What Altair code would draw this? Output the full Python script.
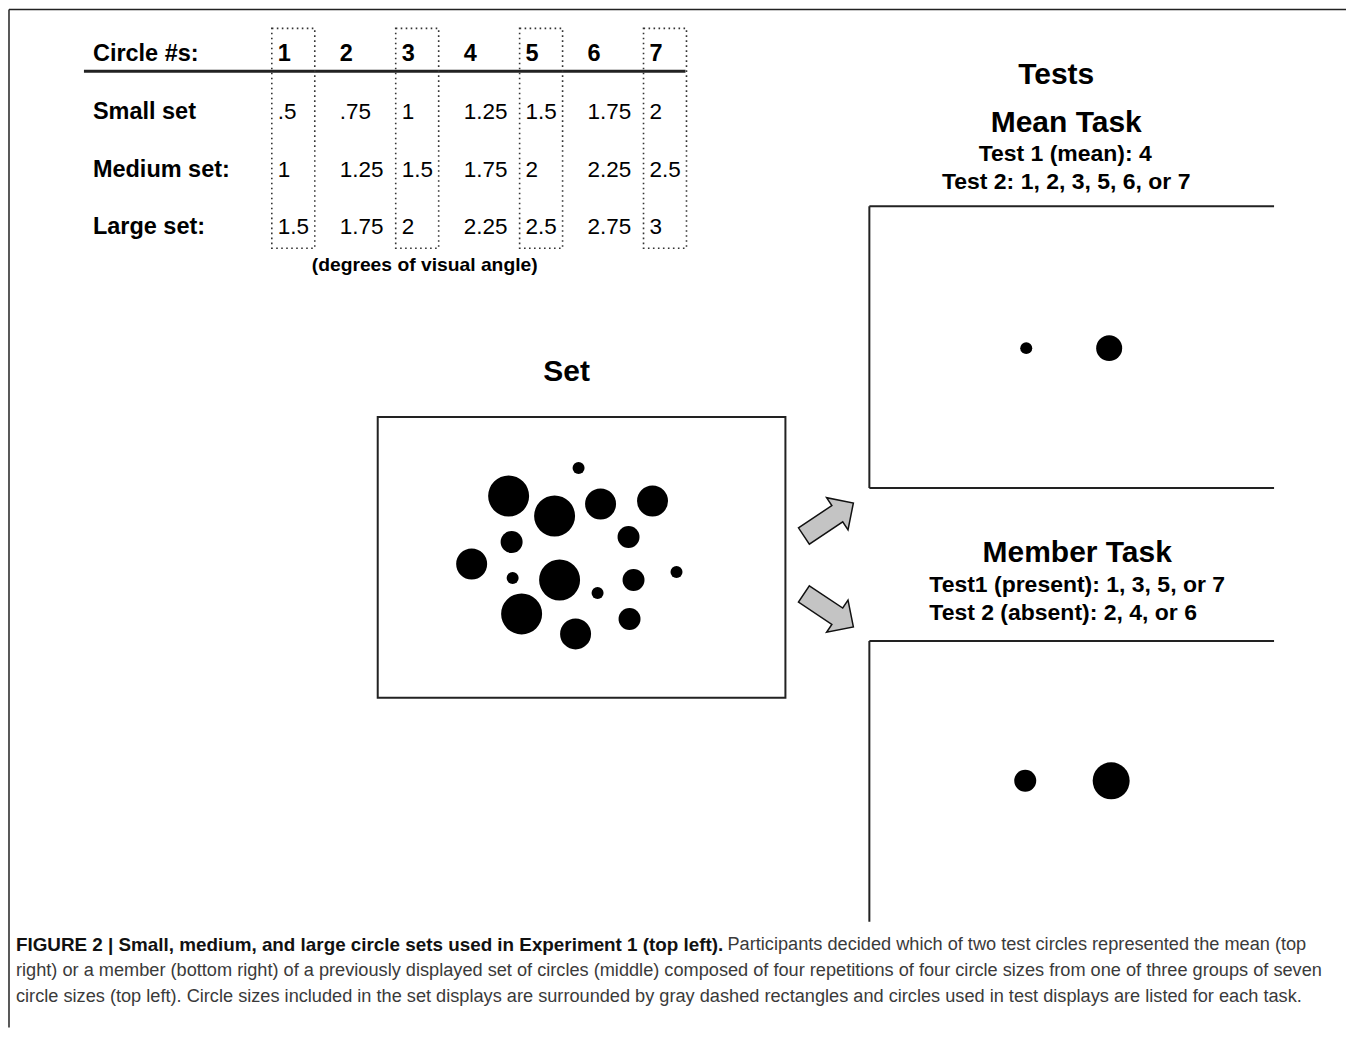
import math
import altair as alt
import pandas as pd

# ---------------- data ----------------
circle_numbers = ["1", "2", "3", "4", "5", "6", "7"]
set_labels = ["Small set", "Medium set:", "Large set:"]
small_vals = [".5", ".75", "1", "1.25", "1.5", "1.75", "2"]
medium_vals = ["1", "1.25", "1.5", "1.75", "2", "2.25", "2.5"]
large_vals = ["1.5", "1.75", "2", "2.25", "2.5", "2.75", "3"]
included_circles = [1, 3, 5, 7]

# set display (16 circles: 4 repetitions of 4 sizes)
set_circle_x = [509, 555, 579, 601, 653, 512, 629, 472, 513, 560, 634, 677, 598, 522, 576, 630]
set_circle_y = [496, 516, 468, 504, 501, 542, 537, 564, 578, 580, 580, 572, 593, 614, 634, 619]
set_circle_r = [20.5, 20.5, 6, 15.5, 15.5, 11, 11, 15.5, 6, 20.5, 11, 6, 6, 20.5, 15.5, 11]

# test displays
mean_test_x = [1027, 1110]
mean_test_y = [348, 348]
mean_test_r = [6, 13]
member_test_x = [1026, 1112]
member_test_y = [781, 781]
member_test_r = [11, 18.5]

caption_bold = "FIGURE 2 | Small, medium, and large circle sets used in Experiment 1 (top left)."
caption_lines = [
    "Participants decided which of two test circles represented the mean (top",
    "right) or a member (bottom right) of a previously displayed set of circles (middle) composed of four repetitions of four circle sizes from one of three groups of seven",
    "circle sizes (top left). Circle sizes included in the set displays are surrounded by gray dashed rectangles and circles used in test displays are listed for each task.",
]

# ---------------- layout ----------------
W, H = 1339, 1020
X0, Y0 = 8, 8
xs = alt.Scale(domain=[X0, X0 + W], nice=False, zero=False)
ys = alt.Scale(domain=[Y0, Y0 + H], nice=False, zero=False, reverse=True)
FONT = "Liberation Sans"


def X(f="x"):
    return alt.X(f"{f}:Q", scale=xs, axis=None)


def Y(f="y"):
    return alt.Y(f"{f}:Q", scale=ys, axis=None)


def X2(f="x2"):
    return alt.X2(f"{f}:Q")


def Y2(f="y2"):
    return alt.Y2(f"{f}:Q")


layers = []

# straight lines (frame, underline, display borders)
rules = pd.DataFrame([
    dict(x=X0 + 1, x2=X0 + W, y=Y0 + 1, y2=Y0 + 1, w=1.5),  # frame top
    dict(x=X0 + 1, x2=X0 + 1, y=Y0 + 1, y2=Y0 + H, w=1.5),  # frame left
    dict(x=84, x2=686, y=71, y2=71, w=3),                  # table underline
    dict(x=870, x2=1275, y=206, y2=206, w=2),              # mean display
    dict(x=870, x2=870, y=206, y2=488, w=2),
    dict(x=870, x2=1275, y=488, y2=488, w=2),
    dict(x=870, x2=1275, y=641, y2=641, w=2),              # member display
    dict(x=870, x2=870, y=641, y2=922, w=2),
])
for w, g in rules.groupby("w"):
    layers.append(
        alt.Chart(g).mark_rule(color="#222", strokeWidth=float(w))
        .encode(x=X(), x2=X2(), y=Y(), y2=Y2())
    )

# set display box
box = pd.DataFrame([dict(x=378, x2=786, y=417, y2=698)])
layers.append(
    alt.Chart(box).mark_rect(fillOpacity=0, stroke="#222", strokeWidth=2)
    .encode(x=X(), x2=X2(), y=Y(), y2=Y2())
)

# dotted boxes around included circle columns
col_left = [272 + 62 * i for i in range(7)]
dot_boxes = pd.DataFrame([
    dict(x=col_left[c - 1], x2=col_left[c - 1] + 43, y=28, y2=248) for c in included_circles
])
layers.append(
    alt.Chart(dot_boxes).mark_rect(fillOpacity=0, stroke="#333", strokeWidth=1.6,
                                   strokeDash=[1.6, 3.4])
    .encode(x=X(), x2=X2(), y=Y(), y2=Y2())
)

# circles
def circles(xv, yv, rv):
    return pd.DataFrame({"x": xv, "y": yv, "s": [(2 * r) ** 2 for r in rv]})

circ = pd.concat([
    circles(set_circle_x, set_circle_y, set_circle_r),
    circles(mean_test_x, mean_test_y, mean_test_r),
    circles(member_test_x, member_test_y, member_test_r),
])
layers.append(
    alt.Chart(circ).mark_point(shape="circle", filled=True, color="black", opacity=1)
    .encode(x=X(), y=Y(), size=alt.Size("s:Q", scale=None, legend=None))
)

# arrows
arrow_path = "M-1,-0.33L0.35,-0.33L0.35,-0.65L1,0L0.35,0.65L0.35,0.33L-1,0.33Z"
arrows = []
for (tx, ty), (hx, hy) in [((804.5, 536), (854, 503)), ((804.5, 594), (854, 627))]:
    L = math.hypot(hx - tx, hy - ty)
    ang = math.degrees(math.atan2(hy - ty, hx - tx)) % 360
    arrows.append(dict(x=(tx + hx) / 2, y=(ty + hy) / 2, s=L * L, a=ang))
layers.append(
    alt.Chart(pd.DataFrame(arrows)).mark_point(shape=arrow_path, filled=True, fill="#c4c4c4",
                                               fillOpacity=1, stroke="#111", strokeWidth=1.5,
                                               opacity=1)
    .encode(x=X(), y=Y(), size=alt.Size("s:Q", scale=None, legend=None),
            angle=alt.Angle("a:Q", scale=None))
)

# texts
def text_layer(rows, size, weight="bold", align="left", color="black"):
    df = pd.DataFrame(rows, columns=["x", "y", "t"])
    return alt.Chart(df).mark_text(font=FONT, fontSize=size, fontWeight=weight, align=align,
                                   baseline="middle", color=color).encode(
        x=X(), y=Y(), text="t:N")

row_y = [112, 170, 227]
layers.append(text_layer([(93, 54, "Circle #s:")] + [(col_left[i] + 6, 54, n) for i, n in enumerate(circle_numbers)]
                         + [(93, row_y[k], lab) for k, lab in enumerate(set_labels)], 23.5))
vals = []
for k, row in enumerate([small_vals, medium_vals, large_vals]):
    for i, v in enumerate(row):
        vals.append((col_left[i] + 6, row_y[k], v))
layers.append(text_layer(vals, 22.5, weight="normal"))
layers.append(text_layer([(425, 265, "(degrees of visual angle)")], 19.3, align="center"))
layers.append(text_layer([(1057, 75, "Tests"), (1067, 123, "Mean Task"), (567, 372, "Set"),
                          (1078, 553, "Member Task")], 30, align="center"))
layers.append(text_layer([(1066, 154, "Test 1 (mean): 4"), (1067, 182, "Test 2: 1, 2, 3, 5, 6, or 7")],
                         23, align="center"))
layers.append(text_layer([(930, 585, "Test1 (present): 1, 3, 5, or 7"),
                          (930, 613, "Test 2 (absent): 2, 4, or 6")], 23))

# caption
layers.append(text_layer([(16, 945, caption_bold)], 18.85, color="#111"))
layers.append(text_layer([(728, 945, caption_lines[0]), (16, 971, caption_lines[1]),
                          (16, 997, caption_lines[2])], 18.2, weight="normal", color="#3a3a3a"))

chart = alt.layer(*layers).properties(
    width=W, height=H, padding=0, background="white"
).configure_view(stroke=None)

chart.save("out.html", embed_options={"renderer": "svg", "actions": False})
